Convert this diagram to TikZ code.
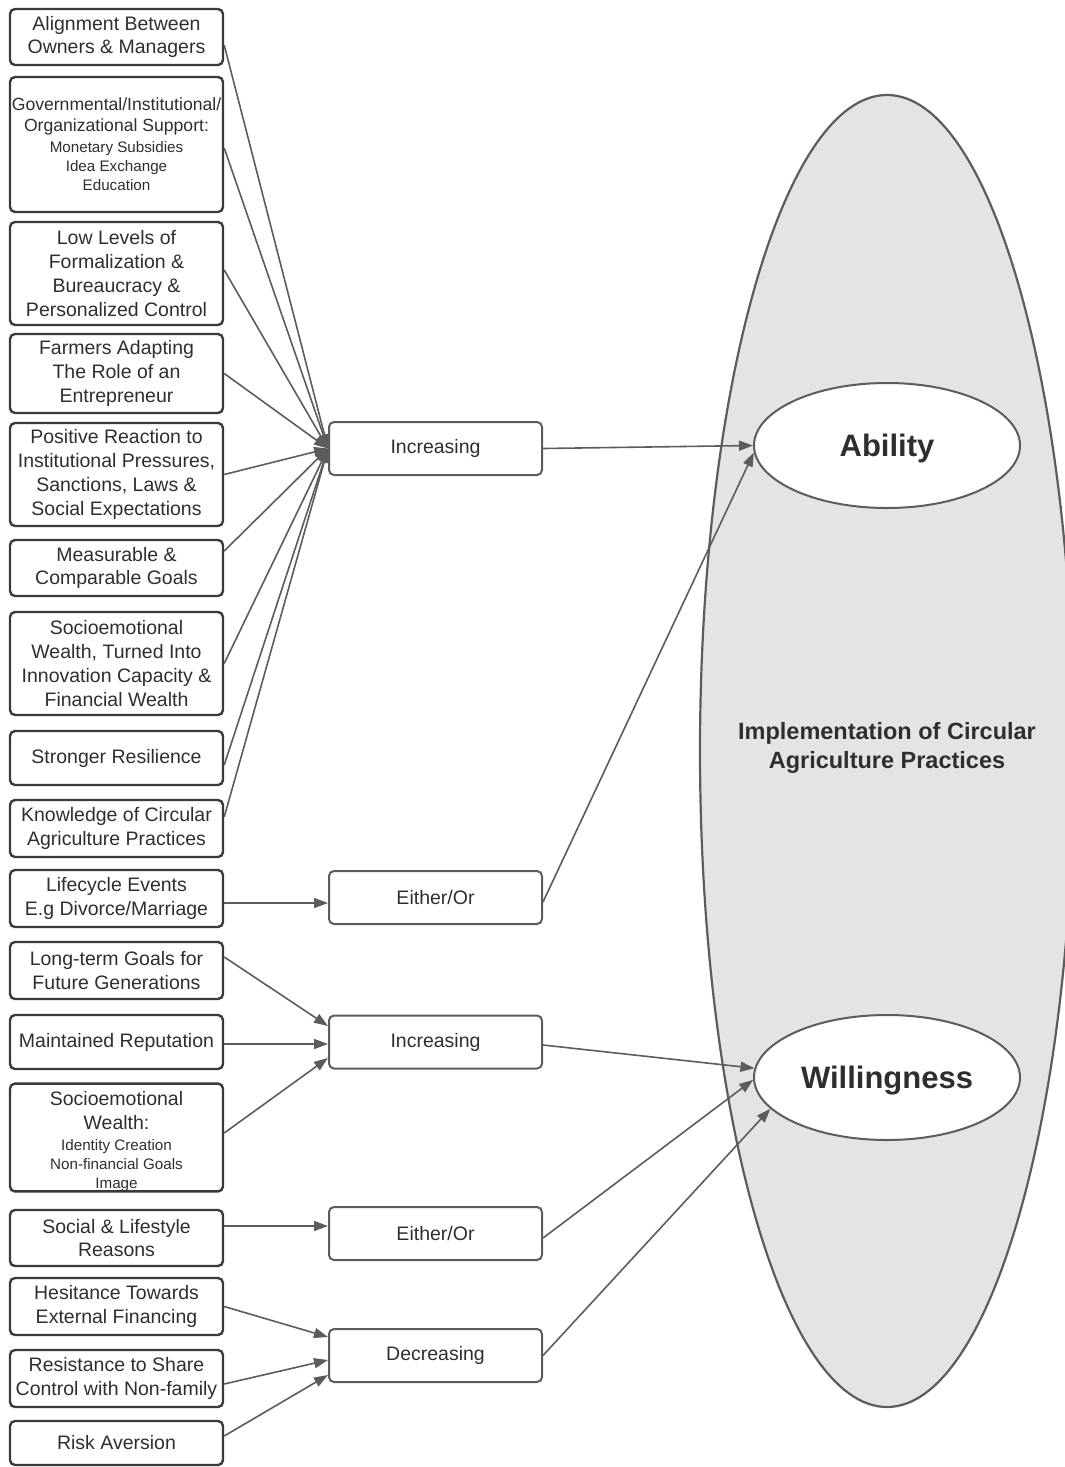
\documentclass[tikz,border=0pt]{standalone}
\usepackage{fontspec}
\setmainfont{Liberation Sans}
\usetikzlibrary{arrows.meta,shapes.geometric}
\definecolor{boxc}{HTML}{3A3A3A}
\definecolor{linec}{HTML}{5C5C5C}
\definecolor{txtc}{HTML}{2E2E2E}
\definecolor{fillc}{HTML}{E4E4E4}
\newcommand\smln{\fontsize{15.2}{19}\selectfont}
\begin{document}
\begin{tikzpicture}[x=1pt, y=-1pt,
  lbox/.style={draw=boxc, line width=2.4pt, rounded corners=5pt, minimum width=213pt,
    inner sep=0pt, align=center, text=txtc, font=\fontsize{19.5}{23.7}\selectfont},
  mbox/.style={lbox, draw=linec, line width=2pt, minimum height=53pt},
  conn/.style={draw=linec, line width=1.6pt, -{Triangle[length=14pt,width=10pt]}},
  oval/.style={ellipse, draw=linec, line width=2pt, fill=white, minimum width=266pt,
    minimum height=125pt, inner sep=0pt, text depth=0pt, text=txtc, font=\fontsize{31}{36}\selectfont\bfseries}]
\useasboundingbox (0,0) rectangle (1065,1467);

% big ellipse
\node[ellipse, draw=linec, line width=2.2pt, fill=fillc, minimum width=374pt,
  minimum height=1312pt, inner sep=0pt] (impl) at (887,751) {};
\node[font=\fontsize{23.5}{29}\selectfont\bfseries, text=txtc, align=center] (impltxt)
  at (887,748) {Implementation of Circular\\Agriculture Practices};
\node[oval] (ability) at (887,445.5) {Ability};
\node[oval] (will) at (887,1077.5) {Willingness};

% left boxes
\node[lbox, minimum height=56pt] (b1) at (116.5,37) {Alignment Between\\Owners \& Managers};
\node[lbox, minimum height=135pt, font=\fontsize{17.6}{21}\selectfont] (b2) at (116.5,144.5)
  {Governmental/Institutional/\\Organizational Support:\\\smln Monetary Subsidies\\[-2pt]\smln Idea Exchange\\[-2pt]\smln Education};
\node[lbox, minimum height=103pt] (b3) at (116.5,273.5) {Low Levels of\\Formalization \&\\Bureaucracy \&\\Personalized Control};
\node[lbox, minimum height=79pt] (b4) at (116.5,373.5) {Farmers Adapting\\The Role of an\\Entrepreneur};
\node[lbox, minimum height=103pt] (b5) at (116.5,474.5) {Positive Reaction to\\Institutional Pressures,\\Sanctions, Laws \&\\Social Expectations};
\node[lbox, minimum height=56pt] (b6) at (116.5,568) {Measurable \&\\Comparable Goals};
\node[lbox, minimum height=103pt] (b7) at (116.5,663.5) {Socioemotional\\Wealth, Turned Into\\Innovation Capacity \&\\Financial Wealth};
\node[lbox, minimum height=54pt] (b8) at (116.5,758) {Stronger Resilience};
\node[lbox, minimum height=57pt] (b9) at (116.5,828.5) {Knowledge of Circular\\Agriculture Practices};
\node[lbox, minimum height=57pt] (b10) at (116.5,898.5) {Lifecycle Events\\E.g Divorce/Marriage};
\node[lbox, minimum height=57pt] (b11) at (116.5,970.5) {Long-term Goals for\\Future Generations};
\node[lbox, minimum height=54pt] (b12) at (116.5,1042) {Maintained Reputation};
\node[lbox, minimum height=107pt] (b13) at (116.5,1137.5)
  {\rule{0pt}{22pt}Socioemotional\\Wealth:\\[-2.7pt]\smln Identity Creation\\[-4.7pt]\smln Non-financial Goals\\[-4.7pt]\smln Image};
\node[lbox, minimum height=56pt] (b14) at (116.5,1238) {Social \& Lifestyle\\Reasons};
\node[lbox, minimum height=57pt] (b15) at (116.5,1306.5) {Hesitance Towards\\External Financing};
\node[lbox, minimum height=57pt] (b16) at (116.5,1378.5) {Resistance to Share\\Control with Non-family};
\node[lbox, minimum height=44pt] (b17) at (116.5,1443) {Risk Aversion};

% middle boxes
\node[mbox] (inc1) at (435.5,448.5) {Increasing};
\node[mbox] (either1) at (435.5,897.5) {Either/Or};
\node[mbox] (inc2) at (435.5,1042) {Increasing};
\node[mbox] (either2) at (435.5,1233.5) {Either/Or};
\node[mbox] (dec) at (435.5,1355.5) {Decreasing};

% connectors to Increasing (ability)
\draw[conn] ([yshift=-8pt]b1.east) -- (inc1.west);
\draw[conn] ([yshift=-3.5pt]b2.east) -- (inc1.west);
\draw[conn] ([yshift=3.5pt]b3.east) -- (inc1.west);
\draw[conn] (b4.east) -- (inc1.west);
\draw[conn] (b5.east) -- (inc1.west);
\draw[conn] ([yshift=17pt]b6.east) -- (inc1.west);
\draw[conn] (b7.east) -- (inc1.west);
\draw[conn] ([yshift=-7pt]b8.east) -- (inc1.west);
\draw[conn] ([yshift=11.5pt]b9.east) -- (inc1.west);
\draw[conn] ([yshift=-4.5pt]b10.east) -- ([yshift=-5.5pt]either1.west);

% willingness group
\draw[conn] ([yshift=13.5pt]b11.east) -- ([yshift=16pt]inc2.west);
\draw[conn] ([yshift=-2pt]b12.east) -- ([yshift=-2pt]inc2.west);
\draw[conn] ([yshift=4.5pt]b13.east) -- ([yshift=-16pt]inc2.west);
\draw[conn] ([yshift=12pt]b14.east) -- ([yshift=7.5pt]either2.west);
\draw[conn] (b15.east) -- ([yshift=18.5pt]dec.west);
\draw[conn] ([yshift=-5.5pt]b16.east) -- ([yshift=-4.5pt]dec.west);
\draw[conn] ([yshift=7pt]b17.east) -- ([yshift=-19.5pt]dec.west);

% to ellipses
\draw[conn] (inc1.east) -- (ability.west);
\draw[conn] ([yshift=-4.5pt]either1.east) -- (ability.183);
\draw[conn] ([yshift=-3pt]inc2.east) -- (will.176);
\draw[conn] ([yshift=-4.5pt]either2.east) -- (will.181);
\draw[conn] (dec.east) -- (will.195);
\end{tikzpicture}
\end{document}
